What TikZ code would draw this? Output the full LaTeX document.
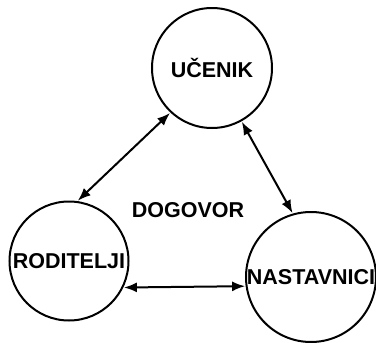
\documentclass[tikz,border=0pt]{standalone}
\usepackage{fontspec}
\setmainfont{Liberation Sans}
\usetikzlibrary{arrows.meta}
\begin{document}
\begin{tikzpicture}[x=1pt,y=-1pt,
  party/.style={draw=black, line width=2pt, circle, inner sep=0pt,
    font=\fontsize{21.5}{25}\selectfont\bfseries},
  link/.style={line width=2pt, {Latex[length=13pt,width=10pt]}-{Latex[length=13pt,width=10pt]}, shorten <=0.5pt, shorten >=0.5pt},
  lbl/.style={font=\fontsize{21.5}{25}\selectfont\bfseries, inner sep=0pt}]
\useasboundingbox (0,0) rectangle (376,343);
\node[party, minimum size=120pt] (ucenik) at (212,68) {UČENIK\hspace{10pt}};
\node[party, minimum size=119pt] (roditelji) at (69,261) {RODITELJI};
\node[party, minimum size=130pt] (nastavnici) at (311,277) {NASTAVNICI};
\node[lbl] (dogovor) at (188,210) {DOGOVOR};
\draw[link] (ucenik.227) -- (roditelji.82);
\draw[link] (ucenik.299) -- (nastavnici.106);
\draw[link] (roditelji.-26) -- (nastavnici.188.85);
\end{tikzpicture}
\end{document}
